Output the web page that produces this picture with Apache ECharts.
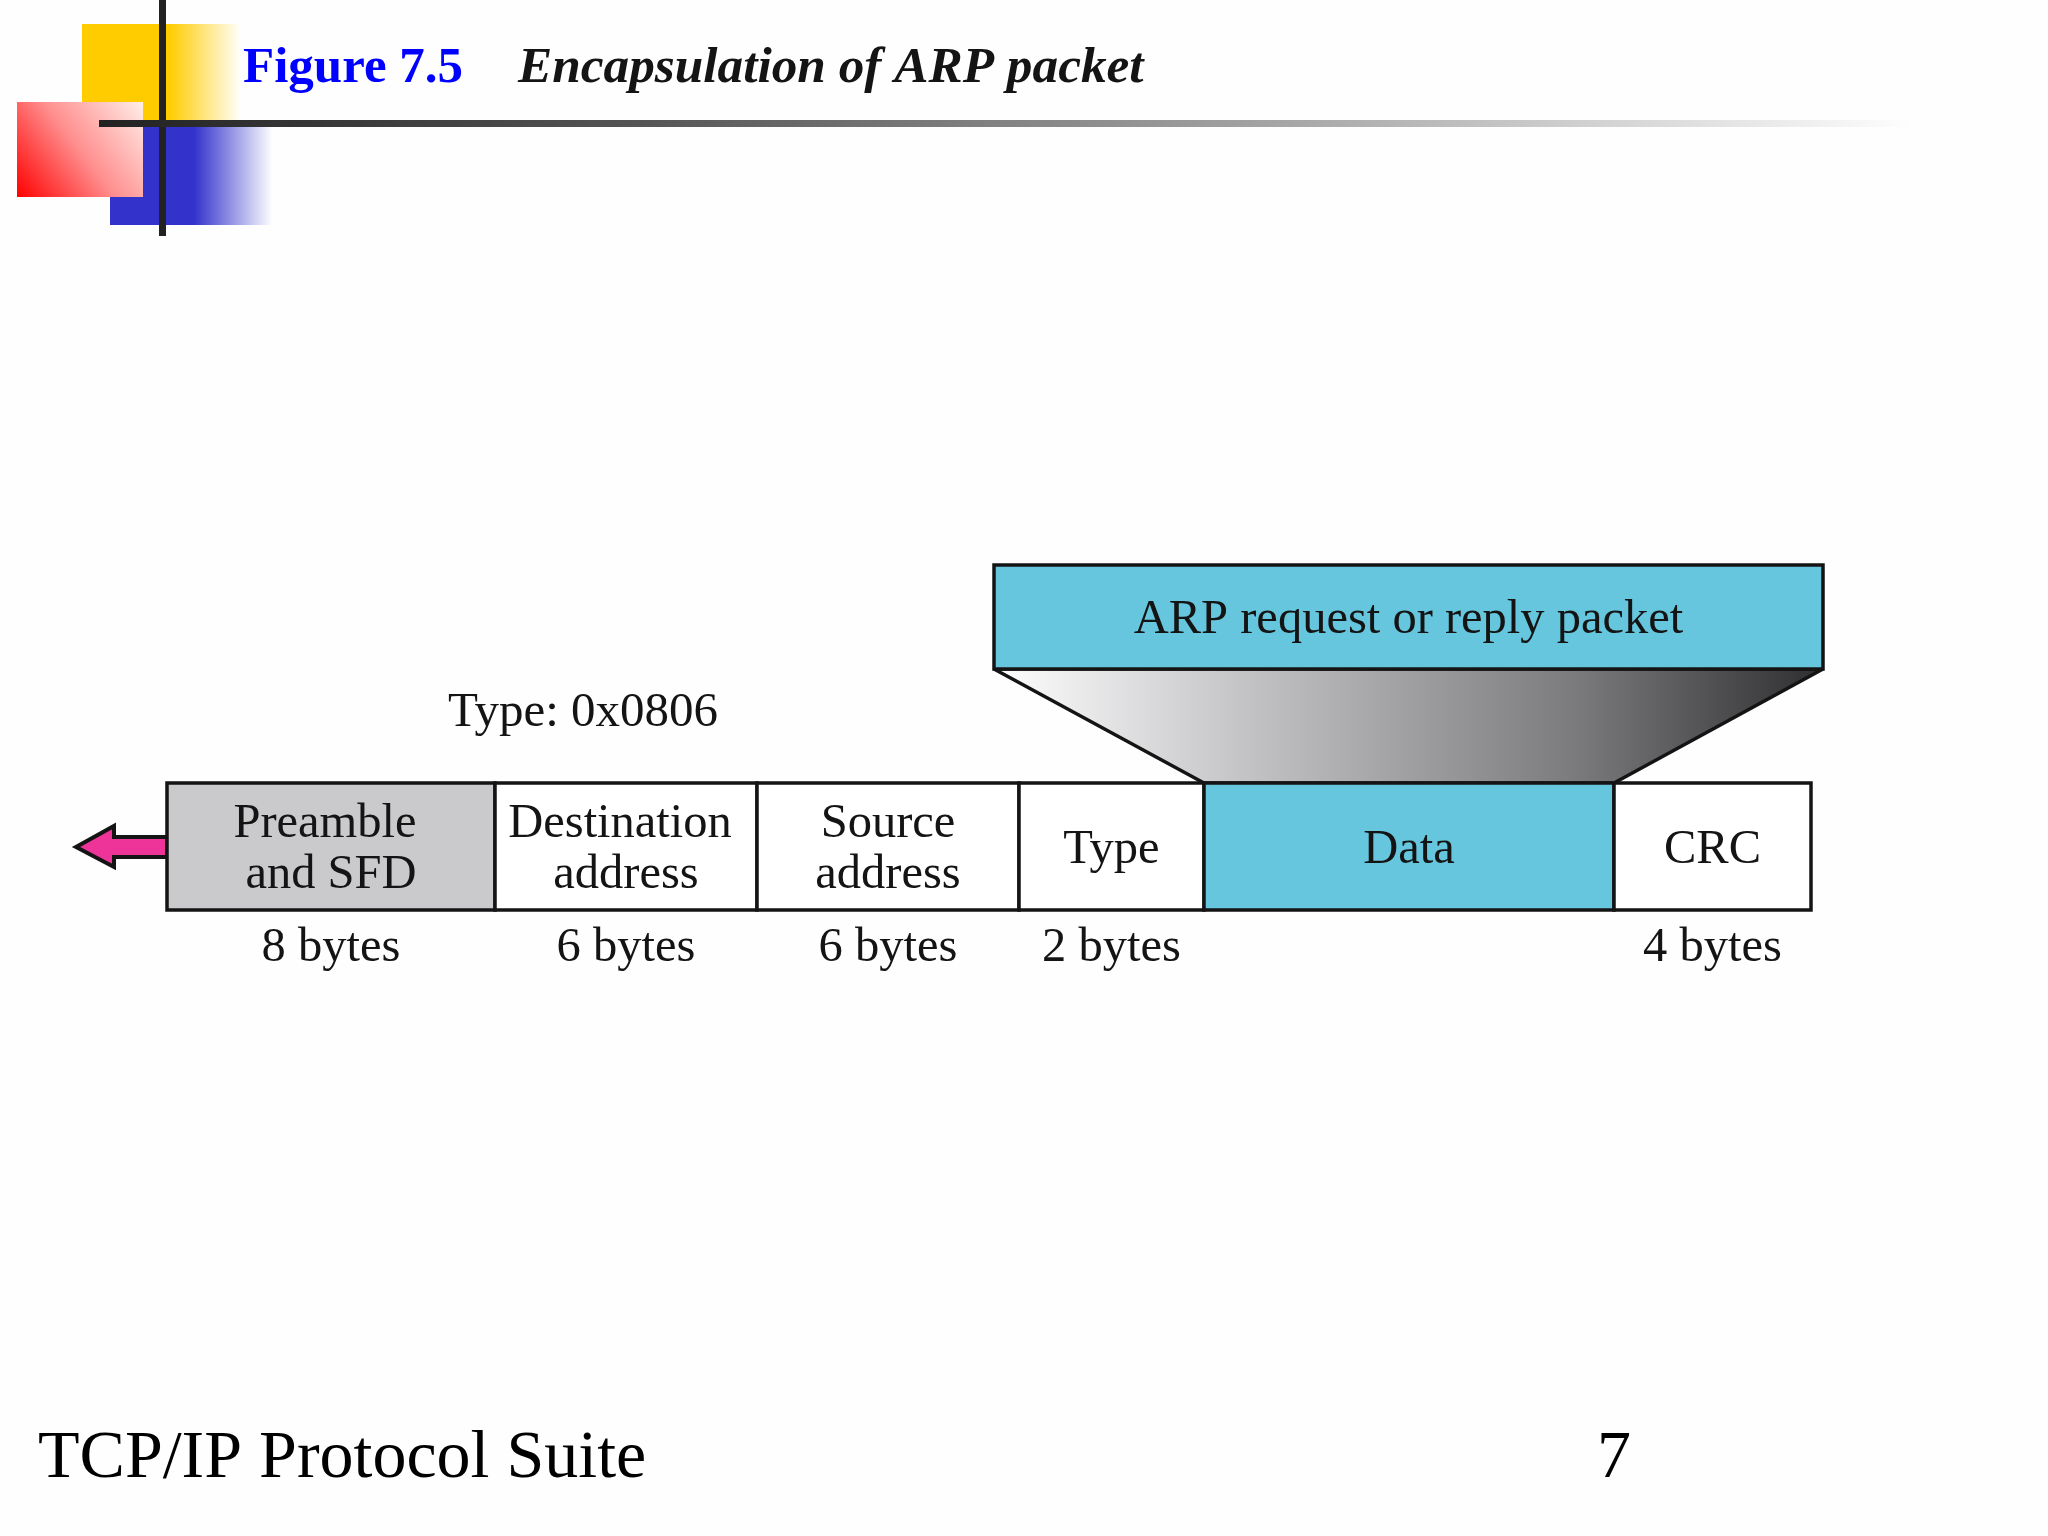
<!DOCTYPE html>
<html>
<head>
<meta charset="utf-8">
<title>Encapsulation of ARP packet</title>
<script src="https://cdn.jsdelivr.net/npm/echarts@6/dist/echarts.min.js"></script>
<style>
  html, body { margin: 0; padding: 0; background: #fefefe; }
  #chart { width: 2048px; height: 1536px; }
</style>
</head>
<body>
<div id="chart"></div>
<script>
// frame fields (edges are on the hidden x axis)
const fieldNames = [['Preamble', 'and SFD'], ['Destination', 'address'], ['Source', 'address'], ['Type'], ['Data'], ['CRC']];
const fieldBytes = ['8 bytes', '6 bytes', '6 bytes', '2 bytes', '', '4 bytes'];
const fieldEdges = [167, 495, 757, 1019, 1204, 1614, 1811];
const frameRow = [783, 910];

// ARP packet box on top and the funnel into the Data field
const packetName = 'ARP request or reply packet';
const packetSpan = [994, 1823];
const packetRow = [565, 669];

const typeNote = 'Type: 0x0806';
const figureNo = 'Figure 7.5';
const figureTitle = 'Encapsulation of ARP packet';
const footerText = 'TCP/IP Protocol Suite';
const pageNo = '7';

const INK = '#141414';
const BLUE = '#66c6de';
const GREY = '#cac9cb';
const SERIF = '"Liberation Serif", serif';
const BODY_SIZE = 48.5;

function fieldFill(name) {
  if (name === 'Preamble') return GREY;
  if (name === 'Data') return BLUE;
  return '#ffffff';
}

function txt(text, x, y, size, extra) {
  return {
    type: 'text',
    style: Object.assign({
      text: text,
      x: x,
      y: y,
      fill: INK,
      font: size + 'px ' + SERIF,
      align: 'center',
      verticalAlign: 'middle',
    }, extra || {}),
  };
}

var chartDom = document.getElementById('chart');
var myChart = echarts.init(chartDom, null, { renderer: 'canvas' });

var fieldData = fieldNames.map(function (n, i) {
  return [fieldEdges[i], fieldEdges[i + 1], i];
});

function renderField(params, api) {
  var i = api.value(2);
  var tl = api.coord([api.value(0), frameRow[0]]);
  var br = api.coord([api.value(1), frameRow[1]]);
  var cx = (tl[0] + br[0]) / 2;
  var lines = fieldNames[i];
  var children = [{
    type: 'rect',
    shape: { x: tl[0], y: tl[1], width: br[0] - tl[0], height: br[1] - tl[1] },
    style: { fill: fieldFill(lines[0]), stroke: INK, lineWidth: 3.5 },
  }];
  if (lines.length === 2) {
    // the first lines of the two left boxes sit a bit left of centre in the original
    var nudge = lines[1] === 'address' && lines[0] === 'Source' ? 0 : -6;
    children.push(txt(lines[0], cx + nudge, tl[1] + 41, BODY_SIZE));
    children.push(txt(lines[1], cx, tl[1] + 92, BODY_SIZE));
  } else {
    children.push(txt(lines[0], cx, tl[1] + 67, BODY_SIZE));
  }
  if (fieldBytes[i]) {
    children.push(txt(fieldBytes[i], cx, br[1] + 38, BODY_SIZE));
  }
  return { type: 'group', children: children };
}

function renderPacket(params, api) {
  var tl = api.coord([api.value(0), packetRow[0]]);
  var br = api.coord([api.value(1), packetRow[1]]);
  return {
    type: 'group',
    children: [
      {
        type: 'rect',
        shape: { x: tl[0], y: tl[1], width: br[0] - tl[0], height: br[1] - tl[1] },
        style: { fill: BLUE, stroke: INK, lineWidth: 3.5 },
      },
      txt(packetName, (tl[0] + br[0]) / 2, (tl[1] + br[1]) / 2 + 3, BODY_SIZE),
    ],
  };
}

function renderFunnel(params, api) {
  var a = api.coord([packetSpan[0], packetRow[1]]);
  var b = api.coord([packetSpan[1], packetRow[1]]);
  var c = api.coord([fieldEdges[5], frameRow[0]]);
  var d = api.coord([fieldEdges[4], frameRow[0]]);
  return {
    type: 'polygon',
    shape: { points: [a, b, c, d] },
    style: {
      stroke: INK,
      lineWidth: 3.5,
      lineJoin: 'bevel',
      fill: {
        type: 'linear', x: 0, y: 0, x2: 1, y2: 0,
        colorStops: [
          { offset: 0, color: '#ffffff' },
          { offset: 0.3, color: '#c4c3c6' },
          { offset: 0.7, color: '#7b7a7d' },
          { offset: 1, color: '#2e2e30' },
        ],
      },
    },
  };
}

function hFade(stops) {
  return { type: 'linear', x: 0, y: 0, x2: 1, y2: 0, colorStops: stops };
}

var option = {
  backgroundColor: '#fefefe',
  animation: false,
  grid: { left: 0, right: 0, top: 0, bottom: 0 },
  xAxis: { type: 'value', min: 0, max: 2048, show: false },
  yAxis: { type: 'value', min: 0, max: 1536, inverse: true, show: false },
  series: [
    { type: 'custom', name: 'funnel', renderItem: renderFunnel, data: [packetSpan], silent: true, z: 2 },
    { type: 'custom', name: 'packet', renderItem: renderPacket, data: [packetSpan], silent: true, z: 3 },
    { type: 'custom', name: 'frame', renderItem: renderField, data: fieldData, silent: true, z: 4 },
  ],
  graphic: [
    // slide decoration
    { type: 'rect', z: 1, shape: { x: 82, y: 24, width: 158, height: 97 },
      style: { fill: hFade([{ offset: 0, color: '#ffcc00' }, { offset: 0.55, color: '#ffcc00' }, { offset: 1, color: '#fffefa' }]) } },
    { type: 'rect', z: 1, shape: { x: 110, y: 125, width: 162, height: 100 },
      style: { fill: hFade([{ offset: 0, color: '#3333cc' }, { offset: 0.52, color: '#3333cc' }, { offset: 1, color: '#fdfdff' }]) } },
    { type: 'rect', z: 1, shape: { x: 17, y: 102, width: 126, height: 95 },
      style: { fill: { type: 'linear', x: 0, y: 1, x2: 1, y2: 0, colorStops: [
        { offset: 0, color: '#ff0000' }, { offset: 0.5, color: '#ff8f8f' }, { offset: 1, color: '#ffeee8' }] } } },
    { type: 'rect', z: 1, shape: { x: 159, y: 0, width: 7, height: 236 }, style: { fill: '#222222' } },
    { type: 'rect', z: 1, shape: { x: 99, y: 120, width: 1814, height: 7 },
      style: { fill: hFade([{ offset: 0, color: '#222222' }, { offset: 0.3, color: '#555555' }, { offset: 0.65, color: '#a5a5a5' }, { offset: 1, color: '#fefefe' }]) } },
    // backward arrow off the frame
    { type: 'polygon', z: 1, shape: { points: [[76, 847], [114, 826], [114, 837], [167, 837], [167, 857], [114, 857], [114, 867]] },
      style: { fill: '#ee3399', stroke: INK, lineWidth: 4 } },
    // titles and notes
    { type: 'text', z: 5, style: { text: figureNo, x: 243, y: 69, fill: '#0000ff', font: 'bold 51px ' + SERIF, align: 'left', verticalAlign: 'middle' } },
    { type: 'text', z: 5, style: { text: figureTitle, x: 518, y: 69, fill: INK, font: 'italic bold 51.3px ' + SERIF, align: 'left', verticalAlign: 'middle' } },
    { type: 'text', z: 5, style: { text: typeNote, x: 583, y: 713, fill: INK, font: '49px ' + SERIF, align: 'center', verticalAlign: 'middle' } },
    { type: 'text', z: 5, style: { text: footerText, x: 38, y: 1459, fill: '#000000', font: '68px ' + SERIF, align: 'left', verticalAlign: 'middle' } },
    { type: 'text', z: 5, style: { text: pageNo, x: 1597, y: 1459, fill: '#000000', font: '68px ' + SERIF, align: 'left', verticalAlign: 'middle' } },
  ],
};

option && myChart.setOption(option);
</script>
</body>
</html>
